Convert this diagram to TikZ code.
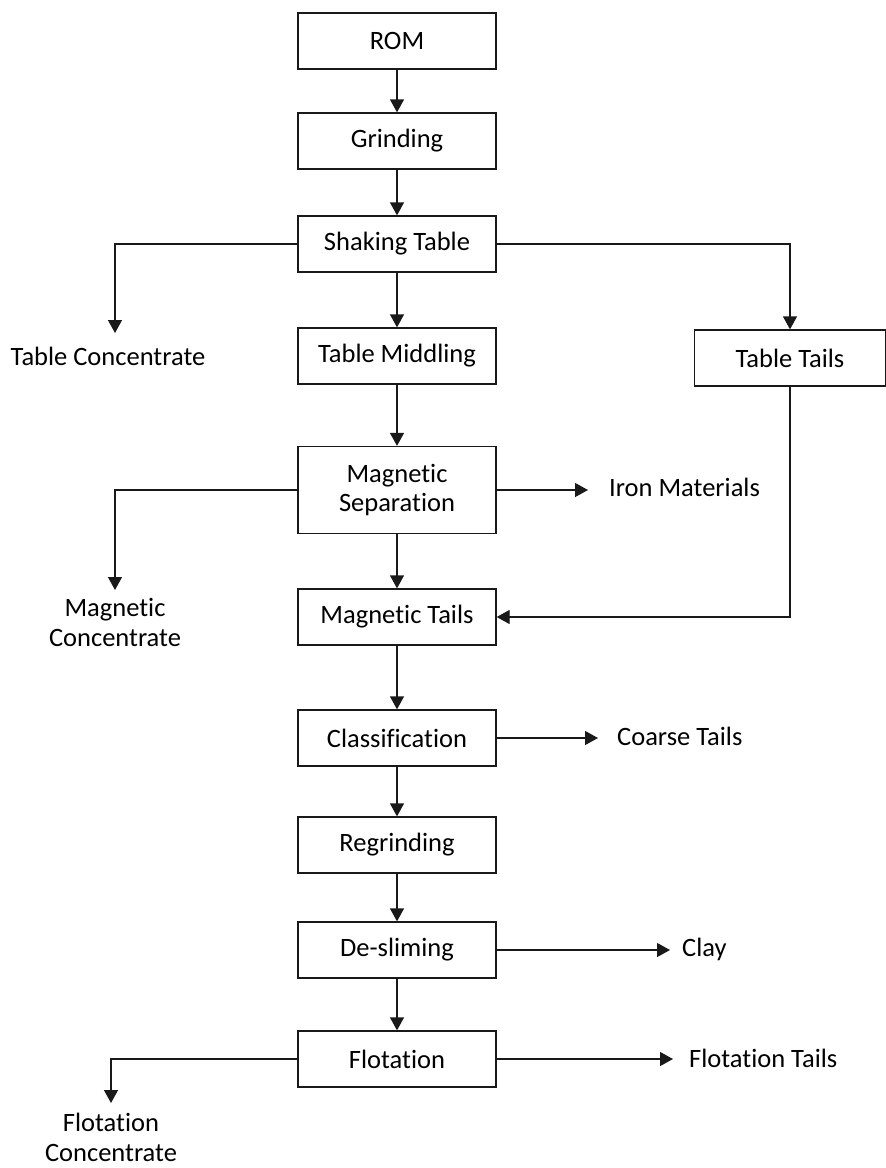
\documentclass[tikz,border=0pt]{standalone}
\usepackage{fontspec}
\setmainfont{Carlito}[RawFeature={-liga}]
\usetikzlibrary{arrows.meta}
\begin{document}
\begin{tikzpicture}[x=1pt,y=-1pt,
  every node/.style={font=\fontsize{26.5}{30}\selectfont},
  proc/.style={draw=black!90,line width=1.3pt,rectangle,minimum width=198pt,minimum height=56pt,inner sep=2pt,align=center},
  lbl/.style={inner sep=0pt,align=center},
  flow/.style={line width=1.3pt,draw=black!90,-{Triangle[length=13pt,width=14pt]}}]
\useasboundingbox (0,0) rectangle (886,1168);
\node[proc] (rom) at (397,41) {ROM};
\node[proc] (grind) at (397,141) {Grinding};
\node[proc] (shake) at (397,244) {Shaking Table};
\node[proc] (mid) at (397,356) {Table Middling};
\node[proc,minimum width=191pt] (tails) at (790,358) {Table Tails};
\node[proc,minimum height=87pt,text width=180pt,align=center] (magsep) at (397,490) {Magnetic\\[-1pt]Separation};
\node[proc] (magtails) at (397,617) {Magnetic Tails};
\node[proc] (class) at (397,738) {Classification};
\node[proc] (regrind) at (397,845) {Regrinding};
\node[proc] (desl) at (397,950) {De-sliming};
\node[proc] (flot) at (397,1059) {Flotation};

\node[lbl] (tconc) at (108,356) {Table Concentrate};
\node[lbl,anchor=west] (iron) at (609,487) {Iron Materials};
\node[lbl] (magconc) at (115,622) {Magnetic\\Concentrate};
\node[lbl] (fconc) at (111,1137) {Flotation\\Concentrate};
\node[lbl,anchor=west] (coarse) at (617,736) {Coarse Tails};
\node[lbl,anchor=west] (clay) at (682,949) {Clay};
\node[lbl,anchor=west] (ftails) at (689,1058) {Flotation Tails};

\coordinate (tcend) at (115,333);
\coordinate (mcend) at (115,590);
\coordinate (fcend) at (111,1103);
\coordinate (ironend) at (588,490);
\coordinate (coarseend) at (598,738);
\coordinate (clayend) at (670,950);
\coordinate (ftailsend) at (673,1059);

\draw[flow] (rom) -- (grind);
\draw[flow] (grind) -- (shake);
\draw[flow] (shake) -- (mid);
\draw[flow] (shake.west) -| (tcend);
\draw[flow] (shake.east) -| (tails.north);
\draw[flow] (mid) -- (magsep);
\draw[flow] (magsep.west) -| (mcend);
\draw[flow] (magsep.east) -- (ironend);
\draw[flow] (magsep) -- (magtails);
\draw[flow] (tails.south) |- (magtails.east);
\draw[flow] (magtails) -- (class);
\draw[flow] (class.east) -- (coarseend);
\draw[flow] (class) -- (regrind);
\draw[flow] (regrind) -- (desl);
\draw[flow] (desl.east) -- (clayend);
\draw[flow] (desl) -- (flot);
\draw[flow] (flot.east) -- (ftailsend);
\draw[flow] (flot.west) -| (fcend);
\end{tikzpicture}
\end{document}
